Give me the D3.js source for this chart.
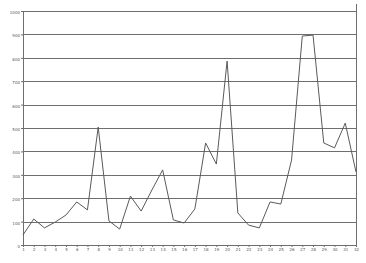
<!DOCTYPE html>
<html>
<head>
<meta charset="utf-8">
<script src="https://cdn.jsdelivr.net/npm/d3@7"></script>
<style>
  html, body { margin: 0; padding: 0; background: #fff; }
  .tick-label { font-family: "DejaVu Sans", sans-serif; font-size: 4px; fill: #555; }
</style>
</head>
<body>
<div id="chart"></div>
<script>
'use strict';

// values
const categories = d3.range(1, 33).map(String);
const values = [43, 111, 73, 98, 128, 184, 150, 504, 103, 68, 209, 145, 235, 321, 107, 94,
  154, 436, 346, 786, 137, 85, 73, 184, 175, 363, 893, 897, 436, 415, 521, 312];
const yTicks = [0, 100, 200, 300, 400, 500, 600, 700, 800, 900, 1000];

const width = 366;
const height = 263;
const margin = {top: 11, right: 10, bottom: 18, left: 23};
const innerW = width - margin.left - margin.right;
const innerH = height - margin.top - margin.bottom;

const svg = d3.select('#chart').append('svg')
    .attr('width', width)
    .attr('height', height)
  .append('g')
    .attr('transform', 'translate(' + margin.left + ',' + margin.top + ')');

const xScale = d3.scalePoint()
  .domain(categories)
  .range([0, innerW]);

const yScale = d3.scaleLinear()
  .domain([0, 1000])
  .range([innerH, 0]);

// grid lines
svg.append('g')
  .selectAll('line')
  .data(yTicks.slice(1))
  .enter().append('line')
  .attr('x1', 0)
  .attr('x2', innerW)
  .attr('y1', d => Math.round(yScale(d)) + 0.5)
  .attr('y2', d => Math.round(yScale(d)) + 0.5)
  .attr('stroke', '#6e6e6e')
  .attr('stroke-width', 1);

// right border
svg.append('line')
  .attr('x1', innerW + 0.5)
  .attr('x2', innerW + 0.5)
  .attr('y1', -7)
  .attr('y2', innerH)
  .attr('stroke', '#6e6e6e');

const yAxis = d3.axisLeft(yScale).tickValues(yTicks).tickFormat(d3.format('d')).tickSize(2).tickPadding(1);
const gy = svg.append('g').call(yAxis);
gy.select('.domain').attr('stroke', '#6e6e6e');
gy.selectAll('.tick line').attr('stroke', '#6e6e6e');
gy.selectAll('.tick text').attr('class', 'tick-label').attr('dy', '0.6em');

const xAxis = d3.axisBottom(xScale).tickSize(2).tickPadding(1);
const gx = svg.append('g')
  .attr('transform', 'translate(0,' + innerH + ')')
  .call(xAxis);
gx.select('.domain').attr('stroke', '#6e6e6e');
gx.selectAll('.tick line').attr('stroke', '#6e6e6e');
gx.selectAll('.tick text').attr('class', 'tick-label');

const line = d3.line()
  .x((d, i) => xScale(categories[i]))
  .y(d => yScale(d));

svg.append('path')
  .datum(values)
  .attr('fill', 'none')
  .attr('stroke', '#5a5a5a')
  .attr('stroke-width', 1)
  .attr('d', line);
</script>
</body>
</html>
